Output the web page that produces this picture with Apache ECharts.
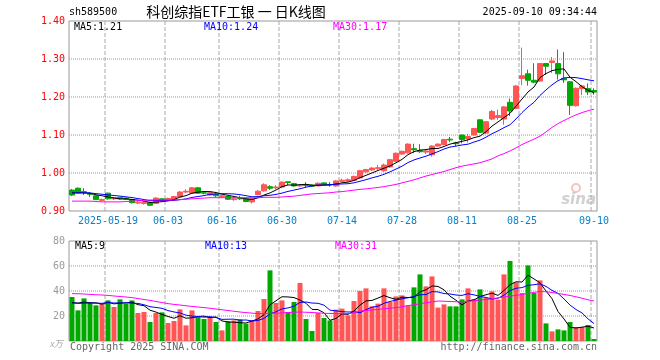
<!DOCTYPE html>
<html><head><meta charset="utf-8">
<script src="https://cdn.jsdelivr.net/npm/echarts@6/dist/echarts.min.js"></script>
<style>html,body{margin:0;padding:0;background:#fff}#c{width:660px;height:360px}</style>
</head><body><div id="c"></div>
<script>
// ---- data ----
const dates = [
'2025-05-09','2025-05-12','2025-05-13','2025-05-14','2025-05-15','2025-05-16','2025-05-19','2025-05-20','2025-05-21','2025-05-22',
'2025-05-23','2025-05-26','2025-05-27','2025-05-28','2025-05-29','2025-05-30','2025-06-03','2025-06-04','2025-06-05','2025-06-06',
'2025-06-09','2025-06-10','2025-06-11','2025-06-12','2025-06-13','2025-06-16','2025-06-17','2025-06-18','2025-06-19','2025-06-20',
'2025-06-23','2025-06-24','2025-06-25','2025-06-26','2025-06-27','2025-06-30','2025-07-01','2025-07-02','2025-07-03','2025-07-04',
'2025-07-07','2025-07-08','2025-07-09','2025-07-10','2025-07-11','2025-07-14','2025-07-15','2025-07-16','2025-07-17','2025-07-18',
'2025-07-21','2025-07-22','2025-07-23','2025-07-24','2025-07-25','2025-07-28','2025-07-29','2025-07-30','2025-07-31','2025-08-01',
'2025-08-04','2025-08-05','2025-08-06','2025-08-07','2025-08-08','2025-08-11','2025-08-12','2025-08-13','2025-08-14','2025-08-15',
'2025-08-18','2025-08-19','2025-08-20','2025-08-21','2025-08-22','2025-08-25','2025-08-26','2025-08-27','2025-08-28','2025-08-29',
'2025-09-01','2025-09-02','2025-09-03','2025-09-04','2025-09-05','2025-09-08','2025-09-09','2025-09-10'];
const tickDates = ['2025-05-19','2025-06-03','2025-06-16','2025-06-30','2025-07-14','2025-07-28','2025-08-11','2025-08-25','2025-09-10'];
const tickLabels = ['2025-05-19','06-03','06-16','06-30','07-14','07-28','08-11','08-25','09-10'];
const openP = [
.955,.960,.951,.946,.940,.928,.947,.932,.936,.934,
.930,.921,.920,.922,.920,.932,.929,.930,.937,.950,
.947,.961,.948,.942,.945,.938,.938,.930,.934,.932,
.924,.943,.953,.964,.961,.963,.977,.972,.966,.969,
.968,.966,.974,.970,.966,.978,.979,.981,.987,1.003,
1.008,1.012,1.006,1.016,1.031,1.050,1.053,1.064,1.059,1.055,
1.048,1.071,1.075,1.089,1.079,1.100,1.090,1.100,1.140,1.105,
1.142,1.146,1.142,1.186,1.170,1.249,1.261,1.244,1.242,1.288,
1.291,1.288,1.249,1.240,1.177,1.222,1.222,1.217];
const closeP = [
.942,.948,.949,.944,.930,.930,.932,.935,.932,.931,
.922,.923,.922,.915,.934,.929,.933,.938,.950,.952,
.961,.947,.947,.948,.940,.940,.931,.932,.932,.925,
.932,.952,.969,.960,.963,.976,.975,.966,.967,.967,
.965,.973,.969,.969,.979,.981,.982,.991,1.006,1.009,
1.013,1.014,1.021,1.035,1.052,1.057,1.076,1.061,1.056,1.058,
1.071,1.076,1.088,1.087,1.077,1.088,1.096,1.117,1.107,1.135,
1.162,1.151,1.174,1.163,1.229,1.256,1.244,1.239,1.288,1.281,
1.295,1.261,1.245,1.178,1.223,1.229,1.213,1.213];
const highP = [
.958,.962,.960,.950,.941,.933,.948,.937,.937,.935,
.931,.926,.925,.924,.936,.933,.935,.939,.952,.957,
.963,.963,.952,.950,.948,.943,.939,.937,.940,.933,
.934,.955,.973,.968,.968,.978,.977,.974,.970,.976,
.969,.975,.975,.976,.981,.985,.986,.993,1.008,1.011,
1.015,1.021,1.025,1.037,1.054,1.059,1.078,1.077,1.076,1.062,
1.073,1.078,1.090,1.095,1.082,1.101,1.103,1.119,1.141,1.136,
1.166,1.167,1.176,1.196,1.231,1.330,1.272,1.289,1.289,1.289,
1.305,1.325,1.318,1.242,1.225,1.232,1.236,1.223];
const lowP = [
.940,.946,.942,.937,.929,.925,.930,.929,.930,.929,
.920,.918,.917,.913,.919,.927,.927,.929,.936,.947,
.946,.945,.944,.941,.937,.935,.929,.927,.929,.923,
.920,.941,.951,.955,.957,.960,.968,.964,.963,.962,
.964,.965,.968,.964,.964,.976,.976,.979,.985,1.001,
1.006,1.008,1.003,1.014,1.029,1.048,1.051,1.052,1.053,1.050,
1.043,1.069,1.073,1.081,1.071,1.078,1.080,1.099,1.105,1.103,
1.139,1.140,1.127,1.150,1.168,1.231,1.230,1.236,1.240,1.258,
1.263,1.246,1.237,1.153,1.175,1.205,1.205,1.206];
const volume = [
35.2,24.5,34.1,30.4,28.5,29.9,32.5,27.2,33.3,29.9,
32.5,22.4,23.2,15.2,22.4,22.9,14.4,16.0,25.3,12.5,
24.5,19.7,17.6,19.2,15.2,8.5,15.7,16.5,17.3,13.9,
16.5,24.0,33.6,56.5,30.4,32.5,23.2,31.2,46.4,17.6,
8.0,22.4,18.4,16.5,25.1,25.9,20.5,32.0,40.0,42.1,
27.7,29.9,42.1,31.2,35.7,36.5,28.5,42.9,53.3,43.7,
51.7,26.7,29.3,27.7,27.7,33.3,42.1,33.6,41.3,34.7,
39.7,33.1,53.3,64.0,46.9,38.4,60.5,38.4,48.5,14.1,
7.7,9.3,8.5,15.2,11.2,11.2,12.8,1.6];
// MA30 lines
const ma30Line = [
.926,.926,.926,.926,.925,.924,.924,.924,.924,.925,
.926,.927,.928,.929,.929,.929,.929,.929,.930,.931,
.932,.933,.934,.935,.935,.935,.935,.935,.935,.935,
.935,.935,.936,.936,.936,.937,.938,.939,.941,.943,
.945,.946,.947,.948,.950,.951,.953,.955,.957,.958,
.960,.962,.964,.967,.970,.974,.978,.982,.987,.992,
.996,1.000,1.004,1.009,1.014,1.018,1.021,1.024,1.027,1.032,
1.037,1.045,1.051,1.058,1.066,1.075,1.082,1.089,1.097,1.108,
1.120,1.130,1.138,1.146,1.153,1.159,1.164,1.168];
const volMa30Line = [
37.9,37.8,37.6,37.3,37.0,36.8,36.5,36.0,35.6,35.2,
34.7,34.0,33.2,32.5,31.6,30.8,29.9,29.3,28.8,28.2,
27.7,27.2,26.7,26.2,25.6,25.0,24.4,23.8,23.2,22.7,
22.3,21.9,22.0,22.1,22.3,22.5,22.8,23.0,23.2,23.0,
22.8,22.5,22.2,22.0,21.9,21.9,21.9,22.5,24.0,24.4,
24.8,25.3,25.8,26.2,26.7,27.5,28.3,29.0,29.8,30.6,
31.3,32.0,31.8,31.6,31.4,31.2,31.7,32.2,32.7,33.2,
33.7,34.5,35.2,35.9,36.5,37.3,38.1,38.9,39.6,39.4,
38.8,38.0,37.3,36.4,35.4,34.2,33.0,32.0];
// sessions just before the window (estimated from where the MA lines start)
const priorClose = [.944,.947,.950,.948,.946,.949,.951,.948,.950];
const priorVol = [28,32,30,29,31,27,30,33,29];
const priceTicks = [0.9, 1.0, 1.1, 1.2, 1.3, 1.4];
const volTicks = [0, 20, 40, 60, 80];

// ---- helpers ----
function movingAvg(vals, prior, n){
  const all = prior.concat(vals);
  return vals.map((_, i) => {
    const j = i + prior.length; let s = 0;
    for (let k = j - n + 1; k <= j; k++) s += all[k];
    return +(s / n).toFixed(4);
  });
}
const ma5 = movingAvg(closeP, priorClose, 5);
const ma10 = movingAvg(closeP, priorClose, 10);
const vma5 = movingAvg(volume, priorVol, 5);
const vma10 = movingAvg(volume, priorVol, 10);
const tickIdx = tickDates.map(d => dates.indexOf(d));
const tickSet = new Set(tickIdx);
const RED = '#ff5555', GREEN = '#00a800';
const MONO = '"DejaVu Sans Mono", monospace';
const N = dates.length;

const chart = echarts.init(document.getElementById('c'), null, {renderer: 'canvas'});
function txt(x, y, text, fill, align, font) {
  return {type: 'text', x: x, y: y, silent: true, z: 100,
    style: {text: text, fill: fill, align: align || 'left', verticalAlign: 'middle', font: font || ('10px ' + MONO)}};
}
// guide lines as broken line series on hidden value axes spanning the session boundaries 0..N
function vGuides(xi, yi, lo, hi) {
  const d = [];
  tickIdx.forEach(i => { d.push([i, lo], [i, hi], '-'); });
  return {type: 'line', xAxisIndex: xi, yAxisIndex: yi, data: d, symbol: 'none', z: 4,
    lineStyle: {color: '#aaa', type: 'dashed', width: 1}};
}
function hGuides(xi, yi, vals) {
  const d = [];
  vals.forEach(v => { d.push([0, v], [N, v], '-'); });
  return {type: 'line', xAxisIndex: xi, yAxisIndex: yi, data: d, symbol: 'none', z: 4,
    lineStyle: {color: '#999', type: 'dotted', width: 1}};
}
chart.setOption({
  animation: false,
  tooltip: {show: false},
  grid: [
    {left: 69, top: 21, width: 528, height: 190, show: true, borderColor: '#999', borderWidth: 1},
    {left: 69, top: 241, width: 528, height: 100, show: true, borderColor: '#999', borderWidth: 1}
  ],
  xAxis: [
    {type: 'category', gridIndex: 0, data: dates, boundaryGap: true,
     axisLine: {show: false}, axisTick: {show: false},
     axisLabel: {interval: 0, formatter: (v) => tickSet.has(dates.indexOf(v)) ? tickLabels[tickDates.indexOf(v)] : '',
       color: '#0a80c8', fontFamily: MONO, fontSize: 10, margin: 5, hideOverlap: false},
     splitLine: {show: false}},
    {type: 'category', gridIndex: 1, data: dates, boundaryGap: true,
     axisLine: {show: false}, axisTick: {show: false}, axisLabel: {show: false}, splitLine: {show: false}},
    {type: 'value', gridIndex: 0, min: 0, max: N, position: 'top', axisLine: {show: false}, axisTick: {show: false},
     axisLabel: {show: false}, splitLine: {show: false}},
    {type: 'value', gridIndex: 1, min: 0, max: N, position: 'top', axisLine: {show: false}, axisTick: {show: false},
     axisLabel: {show: false}, splitLine: {show: false}}
  ],
  yAxis: [
    {type: 'value', gridIndex: 0, min: 0.9, max: 1.4, interval: 0.1, position: 'left',
     axisLine: {show: false}, axisTick: {show: false},
     axisLabel: {color: '#ff0000', fontFamily: MONO, fontSize: 10, margin: 4, formatter: (v) => v.toFixed(2)},
     splitLine: {show: false}},
    {type: 'value', gridIndex: 1, min: 0, max: 80, interval: 20, position: 'left',
     axisLine: {show: false}, axisTick: {show: false},
     axisLabel: {color: '#999', fontFamily: MONO, fontSize: 10, margin: 4, formatter: (v) => v === 0 ? '' : String(v)},
     splitLine: {show: false}}
  ],
  series: [
    vGuides(2, 0, priceTicks[0], priceTicks[priceTicks.length - 1]),
    vGuides(3, 1, volTicks[0], volTicks[volTicks.length - 1]),
    hGuides(2, 0, priceTicks.slice(1, -1)),
    hGuides(3, 1, volTicks.slice(1, -1)),
    {type: 'candlestick', xAxisIndex: 0, yAxisIndex: 0, barWidth: 5, z: 6,
     data: dates.map((d, i) => [openP[i], closeP[i], lowP[i], highP[i]]),
     itemStyle: {color: RED, color0: GREEN, borderColor: RED, borderColor0: GREEN, borderWidth: 1}},
    {type: 'line', xAxisIndex: 0, yAxisIndex: 0, data: ma5, symbol: 'none', lineStyle: {color: '#000', width: 1}, z: 8},
    {type: 'line', xAxisIndex: 0, yAxisIndex: 0, data: ma10, symbol: 'none', lineStyle: {color: '#0000ff', width: 1}, z: 8},
    {type: 'line', xAxisIndex: 0, yAxisIndex: 0, data: ma30Line, symbol: 'none', lineStyle: {color: '#ff00ff', width: 1}, z: 8},
    {type: 'bar', xAxisIndex: 1, yAxisIndex: 1, barWidth: 5, z: 6,
     data: volume.map((v, i) => ({value: v, itemStyle: {color: closeP[i] >= openP[i] ? RED : GREEN}}))},
    {type: 'line', xAxisIndex: 1, yAxisIndex: 1, data: vma5, symbol: 'none', lineStyle: {color: '#000', width: 1}, z: 8},
    {type: 'line', xAxisIndex: 1, yAxisIndex: 1, data: vma10, symbol: 'none', lineStyle: {color: '#0000ff', width: 1}, z: 8},
    {type: 'line', xAxisIndex: 1, yAxisIndex: 1, data: volMa30Line, symbol: 'none', lineStyle: {color: '#ff00ff', width: 1}, z: 8}
  ],
  graphic: [
    txt(69, 12, 'sh589500', '#000'),
    txt(236, 12, '科创综指ETF工银 一 日K线图', '#000', 'center', '14px "Noto Sans CJK SC"'),
    txt(597, 12, '2025-09-10 09:34:44', '#000', 'right'),
    txt(74, 27, 'MA5:1.21', '#000'),
    txt(204, 27, 'MA10:1.24', '#0000ff'),
    txt(333, 27, 'MA30:1.17', '#ff00ff'),
    txt(75, 246, 'MA5:9', '#000'),
    txt(205, 246, 'MA10:13', '#0000ff'),
    txt(335, 246, 'MA30:31', '#ff00ff'),
    txt(63, 344, 'x万', '#aaa', 'right', 'italic 9px "Noto Sans CJK SC"'),
    txt(70, 347, 'Copyright 2025 SINA.COM', '#666'),
    txt(597, 347, 'http://finance.sina.com.cn', '#666', 'right'),
    txt(596, 200, 'sina', 'rgba(170,170,170,0.55)', 'right', 'italic bold 15px "DejaVu Sans"'),
    {type: 'circle', shape: {cx: 576, cy: 188, r: 4}, silent: true, z: 99,
     style: {fill: 'none', stroke: 'rgba(240,120,120,0.45)', lineWidth: 2}}
  ]
});
</script></body></html>
